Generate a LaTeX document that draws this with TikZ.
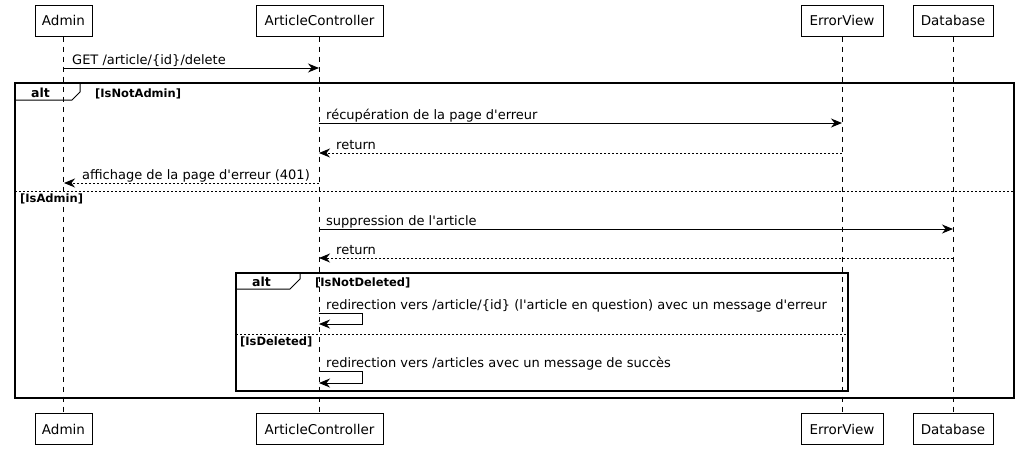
\documentclass[tikz,border=0pt]{standalone}
\usepackage{fontspec}
\setmainfont{DejaVu Sans}
\usetikzlibrary{arrows.meta}
\begin{document}
\begin{tikzpicture}[x=1pt,y=-1pt,
  part/.style={draw,line width=1pt,minimum height=31pt,inner sep=0pt,font=\fontsize{13.5}{16}\selectfont},
  life/.style={line width=0.9pt,dash pattern=on 5pt off 5pt},
  msg/.style={line width=1pt,-{Stealth[length=11pt,width=9pt,inset=3.5pt]}},
  ret/.style={msg,dash pattern=on 2pt off 2pt},
  mtxt/.style={anchor=base west,inner sep=0pt,font=\fontsize{13}{15}\selectfont},
  frame/.style={line width=1.4pt},
  sep/.style={line width=1pt,dash pattern=on 2pt off 2pt},
  ftxt/.style={anchor=base west,inner sep=0pt,font=\bfseries\fontsize{11.5}{13}\selectfont},
  alttxt/.style={anchor=base west,inner sep=0pt,font=\bfseries\fontsize{12.5}{14}\selectfont}]
\useasboundingbox (0,0) rectangle (1019,450);
\fill[white] (0,0) rectangle (1019,450);
% participants
\node[part,minimum width=57pt] (admT) at (63.5,20.5) {Admin};
\node[part,minimum width=127pt] (ctlT) at (319.5,20.5) {ArticleController};
\node[part,minimum width=82pt] (errT) at (842,20.5) {ErrorView};
\node[part,minimum width=80pt] (dbT) at (953,20.5) {Database};
\node[part,minimum width=57pt] (admB) at (63.5,429) {Admin};
\node[part,minimum width=127pt] (ctlB) at (319.5,429) {ArticleController};
\node[part,minimum width=82pt] (errB) at (842,429) {ErrorView};
\node[part,minimum width=80pt] (dbB) at (953,429) {Database};
\draw[life] (admT.south) -- (admB.north);
\draw[life] (ctlT.south) -- (ctlB.north);
\draw[life] (errT.south) -- (errB.north);
\draw[life] (dbT.south) -- (dbB.north);
% frames
\draw[frame] (15,83) rectangle (1014,398);
\draw[line width=1pt] (15,100) -- (72,100) -- (80,92) -- (80,83);
\node[alttxt] (alt1) at (31,97) {alt};
\node[ftxt] (g1) at (95,97) {[IsNotAdmin]};
\draw[sep] (15,191) -- (1014,191);
\node[ftxt] (g2) at (20,202) {[IsAdmin]};
\draw[frame] (236,273) rectangle (848,391);
\draw[line width=1pt] (236,289) -- (290,289) -- (300,279) -- (300,273);
\node[alttxt] (alt2) at (252,286) {alt};
\node[ftxt] (g3) at (315,286) {[IsNotDeleted]};
\draw[sep] (236,334) -- (848,334);
\node[ftxt] (g4) at (240,345) {[IsDeleted]};
% messages
\coordinate (a1) at (64,68); \coordinate (c1) at (319,68);
\draw[msg] (a1) -- (c1);
\node[mtxt] at (72,64) {GET /article/\{id\}/delete};
\coordinate (c2) at (319,123); \coordinate (e2) at (842,123);
\draw[msg] (c2) -- (e2);
\node[mtxt] at (326,119) {récupération de la page d\textquotesingle erreur};
\coordinate (e3) at (842,153); \coordinate (c3) at (319,153);
\draw[ret] (e3) -- (c3);
\node[mtxt] at (336,149) {return};
\coordinate (c4) at (319,183); \coordinate (a4) at (64,183);
\draw[ret] (c4) -- (a4);
\node[mtxt] at (82,179) {affichage de la page d\textquotesingle erreur (401)};
\coordinate (c5) at (319,229); \coordinate (d5) at (953,229);
\draw[msg] (c5) -- (d5);
\node[mtxt] at (326,225) {suppression de l\textquotesingle article};
\coordinate (d6) at (953,258); \coordinate (c6) at (319,258);
\draw[ret] (d6) -- (c6);
\node[mtxt] at (336,254) {return};
\coordinate (c7) at (319,313); \coordinate (c7b) at (319,324);
\draw[msg] (c7) -- (362,313) -- (362,324) -- (c7b);
\node[mtxt] at (326,309) {redirection vers /article/\{id\} (l\textquotesingle article en question) avec un message d\textquotesingle erreur};
\coordinate (c8) at (319,371); \coordinate (c8b) at (319,383);
\draw[msg] (c8) -- (362,371) -- (362,383) -- (c8b);
\node[mtxt] at (326,367) {redirection vers /articles avec un message de succès};
\end{tikzpicture}
\end{document}
